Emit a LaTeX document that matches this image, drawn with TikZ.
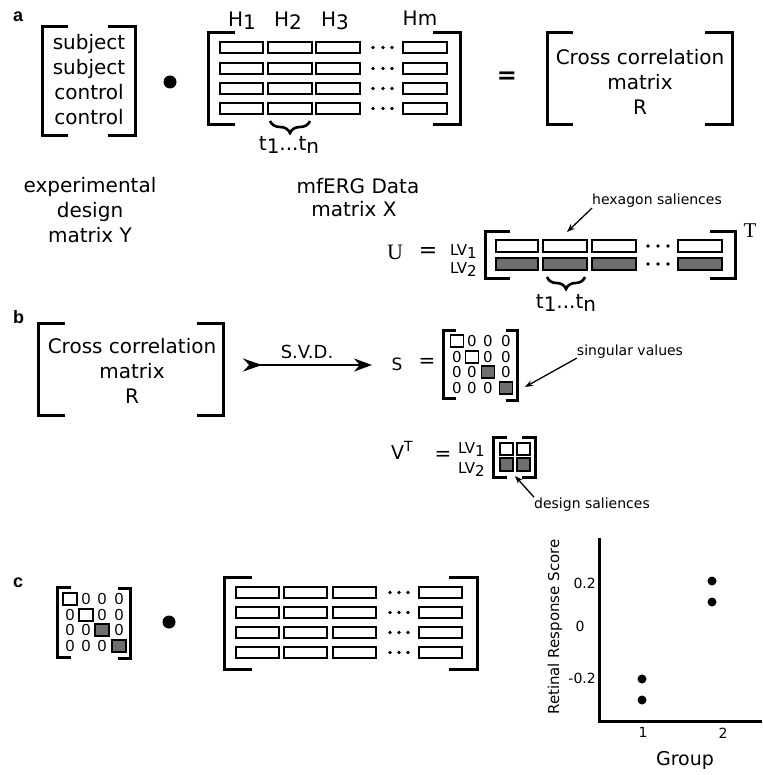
\documentclass[tikz,border=0pt]{standalone}
\usepackage{fontspec}
\setmainfont{DejaVu Sans}
\newfontfamily\lsans{Liberation Sans}
\newfontfamily\lserif{Liberation Serif}
\usetikzlibrary{arrows.meta,decorations.pathreplacing}
\definecolor{salgray}{RGB}{110,110,110}
\newcommand\fs[1]{\fontsize{#1}{#1}\selectfont}
% lowered index, nearly full size
\newcommand\dn[1]{\raisebox{-3pt}{#1}}
% square bracket: vertical bar at x from top to bottom, serifs reaching to sx
\newcommand\brkt[4]{\draw[brk] (#4,#2) -- (#1,#2) -- (#1,#3) -- (#4,#3);}

\begin{document}
\begin{tikzpicture}[x=1pt,y=-1pt,
  brk/.style={line width=3pt, line cap=butt, line join=miter},
  cellw/.style={draw, line width=1.6pt, fill=white},
  cellg/.style={draw, line width=1.6pt, fill=salgray},
  txt/.style={inner sep=0pt, font=\fs{20}},
  small/.style={inner sep=0pt, font=\fs{14}},
  zero/.style={inner sep=0pt, font=\fs{15}},
  zeroc/.style={inner sep=0pt, font=\lsans\fs{16}},
  panel/.style={inner sep=0pt, font=\lsans\bfseries\fs{18}},
  bigdot/.style={circle, fill=black, inner sep=0pt, minimum size=13pt},
  plotdot/.style={circle, fill=black, inner sep=0pt, minimum size=9pt},
  bracepath/.style={line width=2.6pt, decorate, decoration={brace, mirror, amplitude=12pt}},
  pointer/.style={line width=1.3pt, -{Stealth[length=8pt,width=6pt]}},
  axis/.style={line width=3pt, line join=miter}
]
\useasboundingbox (0,0) rectangle (762,775);

% ---------------- panel a ----------------
\node[panel, anchor=base west] (la) at (13,22) {a};

% design matrix Y
\brkt{42}{27}{136}{68}
\brkt{135}{27}{136}{108}
\foreach \t/\yb/\n in {subject/50/ya, subject/75/yb, control/100/yc, control/125/yd}
  \node[txt, anchor=base] (\n) at (89,\yb) {\t};
\node[txt, anchor=base] (capY1) at (90,193) {experimental};
\node[txt, anchor=base] (capY2) at (90,218) {design};
\node[txt, anchor=base] (capY3) at (90,243) {matrix Y};

\node[bigdot] (dotA) at (170,82) {};

% data matrix X
\brkt{208}{33}{125}{235}
\brkt{460}{33}{125}{433}
\foreach \y in {47.5,68.5,88.5,108.5}{
  \foreach \a/\b in {220/263,268/312,316/360,403/447}
    \draw[cellw] (\a,\y-5.5) rectangle (\b,\y+5.5);
  \foreach \d in {373,383,392}
    \fill (\d,\y) circle (1.9);
}
\node[txt, anchor=base] (h1) at (242,27) {H\dn{1}};
\node[txt, anchor=base] (h2) at (288,27) {H\dn{2}};
\node[txt, anchor=base] (h3) at (335,27) {H\dn{3}};
\node[txt, anchor=base] (hm) at (420,26) {Hm};
\draw[bracepath] (270,121) -- (310,121);
\node[txt, anchor=base] (tA) at (289,151) {t\dn{1}...t\dn{n}};
\node[txt, anchor=base] (capX1) at (358,194) {mfERG Data};
\node[txt, anchor=base] (capX2) at (354,217) {matrix X};

\node[inner sep=0pt, font=\bfseries\fs{24}] (eqA) at (507,78) {=};

% cross correlation matrix R
\brkt{547}{33}{125}{573}
\brkt{732}{33}{125}{705}
\node[txt, anchor=base] (ra1) at (640,65) {Cross correlation};
\node[txt, anchor=base] (ra2) at (640,90) {matrix};
\node[txt, anchor=base] (ra3) at (640,115) {R};

% U matrix
\node[inner sep=0pt, anchor=base, font=\lserif\fs{22}] (uU) at (395,260) {U};
\node[inner sep=0pt, font=\fs{22}] (eqU) at (428,253) {=};
\node[inner sep=0pt, anchor=base west, font=\fs{15}] (lvu1) at (450,255) {LV\dn{1}};
\node[inner sep=0pt, anchor=base west, font=\fs{15}] (lvu2) at (450,273) {LV\dn{2}};
\brkt{485}{232}{278}{510}
\brkt{735}{232}{278}{710}
\foreach \a/\b in {496/538,543/587,592/636,678/722}{
  \draw[cellw] (\a,240) rectangle (\b,252);
  \draw[cellg] (\a,258) rectangle (\b,270);
}
\foreach \d in {648,658,668}{
  \fill (\d,246) circle (1.9);
  \fill (\d,264) circle (1.9);
}
\node[inner sep=0pt, anchor=base, font=\lserif\fs{21}] (uT) at (750,238) {T};
\draw[bracepath] (547,277) -- (585,277);
\node[txt, anchor=base] (tU) at (566,308) {t\dn{1}...t\dn{n}};
\node[small, anchor=base] (hex) at (657,205) {hexagon saliences};
\coordinate (hexTip) at (567,232);
\draw[pointer] (hex.south west) -- (hexTip);

% ---------------- panel b ----------------
\node[panel, anchor=base west] (lb) at (13,323) {b};
\brkt{38}{323}{415}{65}
\brkt{223}{323}{415}{197}
\node[txt, anchor=base] (rb1) at (132,353) {Cross correlation};
\node[txt, anchor=base] (rb2) at (132,378) {matrix};
\node[txt, anchor=base] (rb3) at (132,403) {R};

\coordinate (svdA) at (243,365);
\coordinate (svdB) at (372,365);
\draw[line width=2pt, {Stealth[reversed,length=19pt,width=13pt]}-{Stealth[length=18pt,width=13pt]}] (svdA) -- (svdB);
\node[inner sep=0pt, anchor=base, font=\fs{18}] (svd) at (307,358) {S.V.D.};

% singular values S
\node[inner sep=0pt, anchor=base, font=\fs{17}] (sS) at (397,370) {S};
\node[inner sep=0pt, font=\fs{20}] (eqS) at (427,363) {=};
\brkt{443}{330}{398}{456}
\brkt{517}{330}{400}{506}
\foreach \r/\y in {0/341,1/357,2/372,3/388}{
  \foreach \c/\x in {0/457,1/472,2/488,3/506}{
    \ifnum\r=\c
      \ifnum\r<2
        \draw[cellw, line width=1.1pt] (\x-6.5,\y-6) rectangle (\x+6.5,\y+6);
      \else
        \draw[cellg, line width=1.1pt] (\x-6.5,\y-6) rectangle (\x+6.5,\y+6);
      \fi
    \else
      \node[zero] at (\x,\y) {0};
    \fi
  }
}
\node[small, anchor=base] (sing) at (630,355) {singular values};
\coordinate (singTip) at (525,387);
\draw[pointer] (sing.south west) -- (singTip);

% V transpose
\node[inner sep=0pt, anchor=base west, font=\fs{19}] (vV) at (391,459) {V\raisebox{8pt}{\fs{14}T}};
\node[inner sep=0pt, font=\fs{20}] (eqV) at (443,456) {=};
\node[inner sep=0pt, anchor=base west, font=\fs{15}] (lvv1) at (458,453) {LV\dn{1}};
\node[inner sep=0pt, anchor=base west, font=\fs{15}] (lvv2) at (458,473) {LV\dn{2}};
\brkt{493}{437}{477}{507}
\brkt{535}{437}{477}{522}
\draw[cellw, line width=1.1pt] (500,443) rectangle (513,455);
\draw[cellw, line width=1.1pt] (517,443) rectangle (530,455);
\draw[cellg, line width=1.1pt] (500,458) rectangle (513,471);
\draw[cellg, line width=1.1pt] (517,458) rectangle (530,471);
\node[small, anchor=base] (des) at (592,508) {design saliences};
\coordinate (desTip) at (515,476);
\draw[pointer] (des.north west) -- (desTip);

% ---------------- panel c ----------------
\node[panel, anchor=base west] (lc) at (13,587) {c};
\brkt{57}{587}{657}{71}
\brkt{130}{588}{658}{118}
\foreach \r/\y in {0/599,1/615,2/630,3/646}{
  \foreach \c/\x in {0/70,1/86,2/102,3/119}{
    \ifnum\r=\c
      \ifnum\r<2
        \draw[cellw, line width=1.1pt] (\x-7,\y-6) rectangle (\x+7,\y+6);
      \else
        \draw[cellg, line width=1.3pt] (\x-7,\y-6) rectangle (\x+7,\y+6);
      \fi
    \else
      \node[zeroc] at (\x,\y) {0};
    \fi
  }
}
\node[bigdot] (dotC) at (169,622) {};

\brkt{224}{577}{669}{252}
\brkt{477}{577}{669}{449}
\foreach \y in {592.5,612.5,632.5,652.5}{
  \foreach \a/\b in {236/279,284/327,333/376,419/462}
    \draw[cellw] (\a,\y-5.5) rectangle (\b,\y+5.5);
  \foreach \d in {390,399,408}
    \fill (\d,\y) circle (1.9);
}

% score plot
\draw[axis] (599,538) -- (599,721) -- (762,721);
\node[small, anchor=east] (yt1) at (596,583) {0.2};
\node[small] (yt2) at (580,626) {0};
\node[small, anchor=east] (yt3) at (596,678) {-0.2};
\node[inner sep=0pt, font=\fs{15}, rotate=90] (ylab) at (555,627) {Retinal Response Score};
\node[plotdot] (p1) at (642,679) {};
\node[plotdot] (p2) at (642,700) {};
\node[plotdot] (p3) at (712,581) {};
\node[plotdot] (p4) at (712,602) {};
\node[small] (xt1) at (643,732) {1};
\node[small] (xt2) at (723,733) {2};
\node[inner sep=0pt, font=\fs{19}] (xlab) at (685,760) {Group};
\end{tikzpicture}
\end{document}
